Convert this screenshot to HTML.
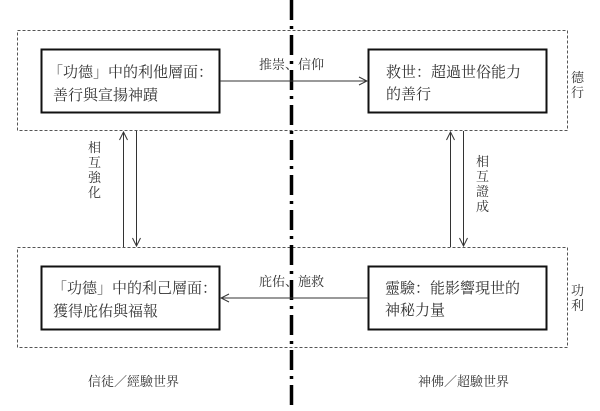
<!DOCTYPE html>
<html><head><meta charset="utf-8"><style>
body{margin:0;background:#fff;}
svg text{font-family:"Liberation Serif","Noto Serif CJK SC","Noto Sans CJK TC",serif;fill:#333;}
</style></head><body>
<svg width="600" height="406" xmlns="http://www.w3.org/2000/svg">
<defs>
<marker id="a" markerWidth="10" markerHeight="10" refX="9" refY="5" orient="auto" markerUnits="userSpaceOnUse">
<path d="M1,1 L9,5 L1,9" fill="none" stroke="#333" stroke-width="1"/>
</marker>
</defs>
<rect x="17.5" y="30.5" width="550" height="100" fill="none" stroke="#555" stroke-dasharray="3,2"/>
<rect x="17.5" y="247.5" width="550" height="100" fill="none" stroke="#555" stroke-dasharray="3,2"/>
<line x1="291.5" y1="0" x2="291.5" y2="406" stroke="#000" stroke-width="3.5" stroke-dasharray="20,6,3,6"/>
<rect x="41.5" y="49.5" width="178" height="63" fill="#fff" stroke="#111" stroke-width="2"/>
<rect x="368.5" y="49.5" width="178" height="63" fill="#fff" stroke="#111" stroke-width="2"/>
<rect x="41.5" y="266.5" width="178" height="63" fill="#fff" stroke="#111" stroke-width="2"/>
<rect x="368.5" y="266.5" width="178" height="63" fill="#fff" stroke="#111" stroke-width="2"/>
<line x1="220" y1="81" x2="367" y2="81" stroke="#333" marker-end="url(#a)"/>
<line x1="368" y1="298" x2="221" y2="298" stroke="#333" marker-end="url(#a)"/>
<line x1="123.5" y1="247" x2="123.5" y2="132" stroke="#333" marker-end="url(#a)"/>
<line x1="136.5" y1="131" x2="136.5" y2="246" stroke="#333" marker-end="url(#a)"/>
<line x1="450.5" y1="247" x2="450.5" y2="132" stroke="#333" marker-end="url(#a)"/>
<line x1="463.5" y1="131" x2="463.5" y2="246" stroke="#333" marker-end="url(#a)"/>
<g font-size="15">
<text x="48" y="77">「功德」中的利他層面：</text>
<text x="53" y="100">善行與宣揚神蹟</text>
<text x="386" y="77">救世：超過世俗能力</text>
<text x="386" y="99">的善行</text>
<text x="52" y="293">「功德」中的利己層面：</text>
<text x="53" y="316">獲得庇佑與福報</text>
<text x="385" y="293">靈驗：能影響現世的</text>
<text x="385" y="315">神秘力量</text>
</g>
<g font-size="13">
<text x="259" y="69">推崇、信仰</text>
<text x="259" y="286">庇佑、施救</text>
<text x="88" y="152">相</text><text x="88" y="167">互</text><text x="88" y="182">強</text><text x="88" y="197">化</text>
<text x="476" y="166">相</text><text x="476" y="181">互</text><text x="476" y="196">證</text><text x="476" y="211">成</text>
<text x="571" y="82">德</text><text x="571" y="97">行</text>
<text x="571" y="295">功</text><text x="571" y="310">利</text>
<text x="88" y="386">信徒／經驗世界</text>
<text x="418" y="386">神佛／超驗世界</text>
</g>
</svg>
</body></html>
